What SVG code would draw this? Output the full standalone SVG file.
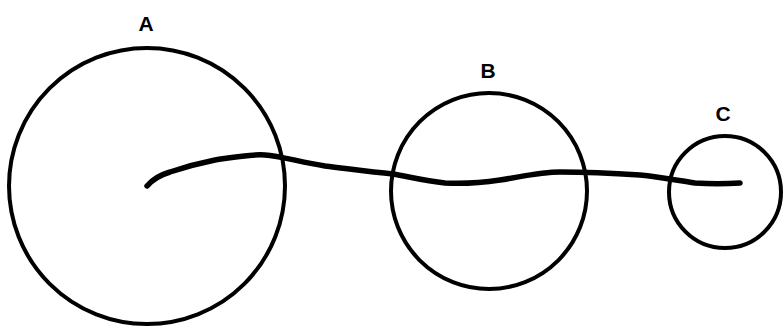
<svg xmlns="http://www.w3.org/2000/svg" width="783" height="326" viewBox="0 0 783 326">
<style>
.node{fill:none;stroke:#000;stroke-width:4}
.lbl{font-family:"Liberation Sans",Arial,sans-serif;font-weight:bold;font-size:21px;text-anchor:middle;fill:#000}
.wire{fill:none;stroke:#000;stroke-width:5.5;stroke-linecap:round;stroke-linejoin:round}
</style>
<rect width="783" height="326" fill="#fff"/>
<g id="A">
<circle class="node" cx="147" cy="186" r="138"/>
<text class="lbl" x="146" y="31">A</text>
</g>
<g id="B">
<circle class="node" cx="489" cy="191" r="98"/>
<text class="lbl" x="488" y="78">B</text>
</g>
<g id="C">
<circle class="node" cx="725" cy="192" r="56"/>
<text class="lbl" x="723" y="121">C</text>
</g>
<g id="connectors">
<path class="wire" d="M147,186 C152,180 160,175 170,172 C185,167 200,163 215,160 C235,157 250,154 265,155 C280,156 300,162 325,166 C350,169 370,172 393,174 C410,177 425,181 445,183 C465,184 480,183 500,180 C520,177 540,172 560,172 C585,172 610,173 640,175 C660,177 675,180 695,183 C710,184 725,184 740,183"/>
</g>
</svg>
